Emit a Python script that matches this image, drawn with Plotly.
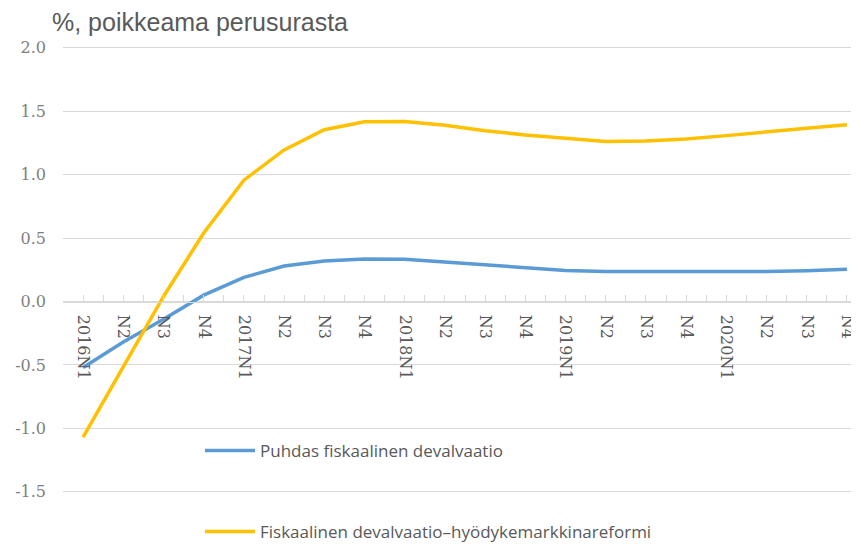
import plotly.graph_objects as go

categories = ["2016N1", "N2", "N3", "N4",
              "2017N1", "N2 ", "N3 ", "N4 ",
              "2018N1", "N2  ", "N3  ", "N4  ",
              "2019N1", "N2   ", "N3   ", "N4   ",
              "2020N1", "N2    ", "N3    ", "N4    "]

puhdas = [-0.52, -0.32, -0.14, 0.05,
          0.19, 0.28, 0.32, 0.335,
          0.333, 0.31, 0.29, 0.265,
          0.245, 0.236, 0.235, 0.235,
          0.235, 0.236, 0.243, 0.254]

reformi = [-1.07, -0.51, 0.04, 0.54,
           0.957, 1.195, 1.355, 1.418,
           1.42, 1.39, 1.347, 1.313,
           1.287, 1.262, 1.266, 1.281,
           1.308, 1.339, 1.366, 1.393]

name_puhdas = "Puhdas fiskaalinen devalvaatio"
name_reformi = "Fiskaalinen devalvaatio\u2013hyödykemarkkinareformi"
title_text = "%, poikkeama perusurasta"

y_tickvals = [-1.5, -1.0, -0.5, 0.0, 0.5, 1.0, 1.5, 2.0]
y_ticktext = ["-1.5", "-1.0", "-0.5", "0.0", "0.5", "1.0", "1.5", "2.0"]

# the page body has an 8px default margin, so the figure is sized to fill the rest
W, H = 851, 536
ML, MT = 55, 32
y_range = [-1.912, 2.062]
x_range = [-0.5, 19.30]
zero_pos = (0 - y_range[0]) / (y_range[1] - y_range[0])

grid = "#d9d9d9"

fig = go.Figure()
fig.add_trace(go.Scatter(
    x=categories, y=puhdas, name=name_puhdas, mode="lines",
    line=dict(color="#5B9BD5", width=3.5), legend="legend",
    xaxis="x", yaxis="y"))
fig.add_trace(go.Scatter(
    x=categories, y=reformi, name=name_reformi, mode="lines",
    line=dict(color="#FFC000", width=3.5), legend="legend2",
    xaxis="x2", yaxis="y"))

xcommon = dict(
    type="category", categoryorder="array", categoryarray=categories,
    range=x_range, anchor="free", position=zero_pos, automargin=False,
    showgrid=False, zeroline=False, fixedrange=True,
)

leg_font = dict(family="Open Sans", size=17, color="#595959")

fig.update_layout(
    width=W, height=H,
    margin=dict(l=ML, r=0, t=MT, b=0, pad=0, autoexpand=False),
    paper_bgcolor="white", plot_bgcolor="white",
    title=dict(text=title_text, xref="container", yref="container",
               x=44 / W, xanchor="left", y=1 - 14 / H, yanchor="middle",
               automargin=False,
               font=dict(family="Liberation Sans", size=25, color="#595959")),
    xaxis=dict(**xcommon, showline=True, linecolor=grid, linewidth=1,
               ticks="inside", tickson="boundaries", ticklen=7,
               tickcolor=grid, tickwidth=1, tickangle=90,
               ticklabelstandoff=9,
               tickfont=dict(family="DejaVu Serif", size=16, color="#595959")),
    xaxis2=dict(**xcommon, overlaying="x", showline=False,
                ticks="inside", tickson="labels", ticklen=7,
                tickcolor=grid, tickwidth=1, showticklabels=False),
    yaxis=dict(range=y_range, tickmode="array", tickvals=y_tickvals,
               ticktext=y_ticktext, showgrid=True, gridcolor=grid,
               gridwidth=1, zeroline=False, showline=False, ticks="",
               ticklabelstandoff=16, fixedrange=True, automargin=False,
               tickfont=dict(family="DejaVu Serif", size=16, color="#7f7f7f")),
    legend=dict(x=137 / (W - ML), xanchor="left",
                y=(544 - 451) / (H - MT), yanchor="middle",
                itemwidth=50, bgcolor="rgba(0,0,0,0)", font=leg_font),
    legend2=dict(x=137 / (W - ML), xanchor="left",
                 y=-6 / (H - MT), yanchor="bottom",
                 itemwidth=50, bgcolor="rgba(0,0,0,0)", font=leg_font),
    showlegend=True,
)

fig.write_html("out.html")
